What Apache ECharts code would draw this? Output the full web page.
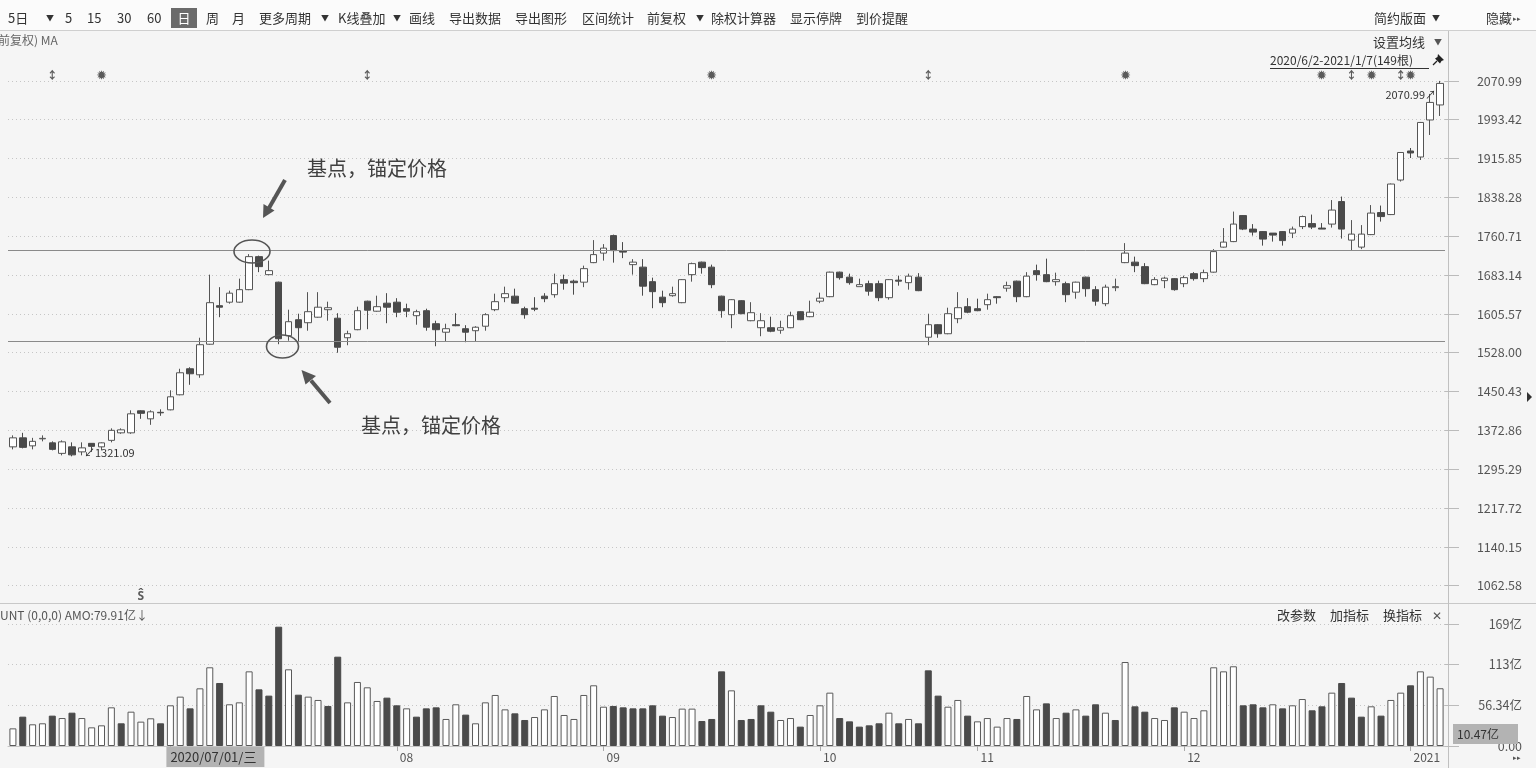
<!DOCTYPE html>
<html><head><meta charset="utf-8">
<script src="https://cdn.jsdelivr.net/npm/echarts@6/dist/echarts.min.js"></script>
<style>html,body{margin:0;padding:0;background:#f5f5f5;}#c{width:1536px;height:768px;}</style>
</head><body><div id="c"></div>
<script>
// ---------- data ----------
const monthDays = [
  ['2020','06',[5,8,9,10,11,12,15,16,17,18,19,22,23,24,29,30]],
  ['2020','07',[1,2,3,6,7,8,9,10,13,14,15,16,17,20,21,22,23,24,27,28,29,30,31]],
  ['2020','08',[3,4,5,6,7,10,11,12,13,14,17,18,19,20,21,24,25,26,27,28,31]],
  ['2020','09',[1,2,3,4,7,8,9,10,11,14,15,16,17,18,21,22,23,24,25,28,29,30]],
  ['2020','10',[9,12,13,14,15,16,19,20,21,22,23,26,27,28,29,30]],
  ['2020','11',[2,3,4,5,6,9,10,11,12,13,16,17,18,19,20,23,24,25,26,27,30]],
  ['2020','12',[1,2,3,4,7,8,9,10,11,14,15,16,17,18,21,22,23,24,25,28,29,30,31]],
  ['2021','01',[4,5,6,7]]
];
const opens = [1340,1358,1342,1356,1348,1327,1340,1330,1347,1340,1353,1368,1368,1412,1396,1409,1414,1444,1496,1484,
1545,1622,1629,1629,1654,1720,1684,1669,1562,1594,1588,1599,1614,1597,1558,1574,1631,1611,1627,1629,
1616,1602,1612,1586,1569,1584,1576,1572,1581,1614,1638,1641,1616,1617,1641,1644,1674,1671,1669,1708,
1727,1762,1731,1704,1699,1670,1639,1642,1628,1684,1709,1699,1641,1604,1632,1592,1578,1578,1573,1578,
1610,1600,1631,1640,1689,1679,1660,1666,1666,1638,1673,1668,1679,1559,1584,1566,1596,1620,1616,1624,
1640,1657,1671,1640,1692,1684,1670,1666,1649,1679,1654,1626,1658,1708,1709,1700,1664,1672,1676,1666,
1686,1676,1689,1739,1750,1802,1775,1770,1767,1770,1767,1780,1786,1777,1785,1830,1753,1739,1764,1808,
1804,1873,1931,1919,1993,2023];
const closes = [1358,1339,1351,1357,1335,1350,1324,1338,1341,1348,1373,1374,1406,1407,1410,1408,1440,1488,1486,1544,
1628,1619,1647,1654,1720,1700,1692,1556,1590,1578,1610,1619,1618,1539,1566,1612,1613,1620,1619,1609,
1611,1610,1579,1574,1576,1582,1569,1579,1604,1630,1646,1627,1604,1615,1636,1666,1667,1668,1696,1724,
1737,1732,1729,1709,1661,1650,1628,1646,1674,1706,1698,1664,1612,1634,1606,1608,1592,1571,1578,1602,
1594,1609,1637,1689,1678,1668,1664,1651,1638,1674,1671,1681,1652,1584,1566,1606,1618,1609,1612,1634,
1638,1662,1640,1681,1684,1670,1674,1644,1669,1656,1631,1659,1660,1727,1702,1666,1674,1677,1654,1678,
1676,1688,1730,1749,1785,1775,1769,1755,1763,1752,1775,1800,1779,1775,1813,1775,1765,1765,1807,1800,
1865,1928,1927,1988,2028,2066];
const lows = [1335,1337,1335,1351,1333,1323,1321.09,1323,1330,1333,1349,1366,1366,1396,1384,1402,1413,1443,1464,1478,
1544,1599,1626,1628,1653,1689,1683,1545,1552,1549,1572,1598,1592,1528,1543,1573,1575,1610,1587,1599,
1599,1584,1572,1541,1551,1581,1549,1551,1572,1611,1629,1626,1596,1611,1629,1638,1654,1644,1659,1707,
1712,1708,1717,1684,1642,1617,1619,1640,1627,1670,1686,1657,1598,1577,1605,1591,1561,1569,1566,1577,
1593,1599,1627,1639,1674,1664,1660,1642,1631,1634,1662,1654,1651,1543,1558,1565,1587,1607,1611,1614,
1626,1650,1629,1639,1672,1669,1662,1629,1636,1640,1622,1621,1651,1707,1689,1665,1663,1657,1652,1659,
1672,1669,1688,1738,1749,1773,1762,1742,1750,1742,1757,1775,1775,1775,1778,1756,1732,1735,1763,1790,
1803,1870,1917,1913,1963,2001];
const highs = [1363,1368,1358,1363,1351,1353,1349,1349,1347,1349,1377,1377,1413,1413,1413,1415,1453,1496,1499,1558,
1684,1659,1652,1676,1725,1722,1712,1670,1614,1606,1649,1649,1630,1607,1572,1620,1632,1642,1647,1637,
1626,1614,1616,1592,1586,1607,1583,1581,1607,1646,1660,1656,1620,1639,1647,1686,1684,1674,1702,1753,
1745,1764,1749,1715,1715,1678,1652,1660,1675,1708,1710,1704,1642,1635,1633,1629,1607,1600,1592,1610,
1611,1632,1648,1690,1690,1686,1676,1672,1672,1675,1682,1686,1687,1606,1585,1618,1649,1637,1636,1646,
1641,1670,1672,1689,1704,1716,1688,1670,1670,1680,1661,1664,1676,1747,1720,1707,1679,1680,1677,1682,
1689,1694,1735,1777,1810,1803,1785,1771,1767,1771,1780,1802,1804,1787,1833,1840,1793,1783,1823,1822,
1866,1929,1937,1989,2045,2070.99];
// turnover (亿)
const volumes = [24.4,40.6,30.0,31.4,42.0,38.7,46.1,38.7,25.8,28.6,53.5,31.4,47.5,33.7,38.3,31.4,56.3,68.3,52.1,79.8,
108.9,87.2,57.7,60.4,103.3,78.4,69.7,165.1,106.1,71.0,68.3,63.7,55.4,123.6,60.4,88.6,81.2,62.3,66.9,56.3,
52.1,40.6,52.1,53.5,37.4,57.7,43.4,31.4,60.4,70.6,50.7,45.2,36.0,40.1,50.7,69.2,42.9,37.4,70.6,84.0,
54.4,55.4,53.5,52.1,52.1,56.3,42.0,40.1,51.7,51.7,34.6,37.4,103.3,77.0,36.0,37.4,56.3,47.5,36.0,38.7,
26.8,42.9,56.3,73.8,38.7,34.1,26.8,28.6,31.4,46.1,31.4,37.4,31.4,104.7,69.7,54.4,63.7,42.0,34.1,38.7,
26.8,38.7,37.4,69.2,50.7,59.0,38.7,46.1,50.7,42.0,57.7,46.1,36.0,116.2,54.9,47.5,38.7,36.0,53.5,47.5,
38.7,49.4,108.9,103.3,110.3,56.3,57.7,53.5,57.7,52.1,56.3,65.0,49.4,54.9,73.8,87.2,66.9,40.6,54.9,42.0,
63.7,73.8,84.0,103.3,96.0,79.91];
// 1 = hollow (close up vs previous close), 0 = filled
const volUp = [1,0,1,1,0,1,0,1,1,1,1,0,1,1,1,0,1,1,0,1,1,0,1,1,1,0,0,0,1,0,1,1,0,0,1,1,1,1,0,0,
1,0,0,0,1,1,0,1,1,1,1,0,0,1,1,1,1,1,1,1,1,0,0,0,0,0,0,1,1,1,0,0,0,1,0,0,0,0,1,1,
0,1,1,1,0,0,0,0,0,1,0,1,0,0,0,1,1,0,1,1,1,1,0,1,1,0,1,0,1,0,0,1,0,1,0,0,1,1,0,1,
1,1,1,1,1,0,0,0,1,0,1,1,0,0,1,0,0,0,1,0,1,1,0,1,1,1];
const priceTicks = [2070.99,1993.42,1915.85,1838.28,1760.71,1683.14,1605.57,1528.00,1450.43,1372.86,1295.29,1217.72,1140.15,1062.58];
const volTicks = [0,56.34,112.68,169.02];
const volTickLabels = ['0.00','56.34亿','113亿','169亿'];
const anchorLines = [1733.5,1550.9];
const markerIdx = [4,9,36,71,93,113,133,136,138,141,142];
const markerSym = ['↕','✹','↕','✹','↕','✹','✹','↕','✹','↕','✹'];
const cursorDate = '2020/07/01', cursorWeekday = '三';
const toolbarItems = [['5日',8],['▼',46],['5',65],['15',87],['30',117],['60',147],['周',206],['月',232],['更多周期',259],['▼',321],['K线叠加',338],['▼',393],['画线',409],['导出数据',449],['导出图形',515],['区间统计',582],['前复权',647],['▼',696],['除权计算器',711],['显示停牌',790],['到价提醒',856],['简约版面',1374],['▼',1432],['隐藏',1486]];

// ---------- build ----------
const categories = [];
monthDays.forEach(([y,m,days]) => days.forEach(d => categories.push(y+'/'+m+'/'+String(d).padStart(2,'0'))));
const kData = opens.map((o,i) => [o, closes[i], lows[i], highs[i]]);
const volData = volumes.map((v,i) => ({value: v, itemStyle: volUp[i] ? {color:'#ffffff', borderColor:'#5a5a5a', borderWidth:1} : {color:'#4a4a4a', borderColor:'#4a4a4a', borderWidth:1}}));
const cursorIndex = categories.indexOf(cursorDate);
function monthLabel(i){
  if (i === 0) return null;
  const p = categories[i].split('/'), q = categories[i-1].split('/');
  if (p[1] === q[1]) return null;
  return p[1] === '01' ? p[0] : p[1];
}
const FONT = '"Noto Sans CJK SC","Noto Sans",sans-serif';
const GL = 8, GR = 91;

const graphic = [];
graphic.push({type:'rect', shape:{x:0,y:0,width:1536,height:30}, style:{fill:'#fbfbfb'}, z:-5});
graphic.push({type:'line', shape:{x1:0,y1:30.5,x2:1536,y2:30.5}, style:{stroke:'#cfcfcf',lineWidth:1}});
graphic.push({type:'line', shape:{x1:0,y1:603.5,x2:1536,y2:603.5}, style:{stroke:'#c8c8c8',lineWidth:1}});
graphic.push({type:'line', shape:{x1:1448.5,y1:31,x2:1448.5,y2:768}, style:{stroke:'#c0c0c0',lineWidth:1}});
toolbarItems.forEach(([t,x]) => graphic.push({type:'text', x:x, y:18, style:{text:t, font:(t==='▼'?'8px ':'13px ')+FONT, fill:'#333', verticalAlign:'middle'}}));
graphic.push({type:'rect', shape:{x:171,y:8,width:26,height:20}, style:{fill:'#6b6b6b'}});
graphic.push({type:'text', x:184, y:18, style:{text:'日', font:'13px '+FONT, fill:'#fff', align:'center', verticalAlign:'middle'}});
graphic.push({type:'text', x:1513, y:18, style:{text:'▸▸', font:'7px '+FONT, fill:'#555', verticalAlign:'middle'}});
graphic.push({type:'text', x:-2, y:40, style:{text:'前复权) MA', font:'12px '+FONT, fill:'#666', verticalAlign:'middle'}});
graphic.push({type:'text', x:1373, y:42, style:{text:'设置均线', font:'13px '+FONT, fill:'#333', verticalAlign:'middle'}});
graphic.push({type:'text', x:1434, y:42, style:{text:'▼', font:'8px '+FONT, fill:'#555', verticalAlign:'middle'}});
graphic.push({type:'text', x:1270, y:60, style:{text:'2020/6/2-2021/1/7(149根)', font:'12px '+FONT, fill:'#333', verticalAlign:'middle'}});
graphic.push({type:'line', shape:{x1:1270,y1:68.5,x2:1429,y2:68.5}, style:{stroke:'#333',lineWidth:1}});
// pushpin
graphic.push({type:'polygon', shape:{points:[[1438,54],[1444,60],[1441.5,61],[1440,63.5],[1435,58.5],[1437.5,57]]}, style:{fill:'#222'}});
graphic.push({type:'line', shape:{x1:1437,y1:61,x2:1433,y2:65}, style:{stroke:'#222',lineWidth:1.2}});
graphic.push({type:'text', x:0, y:615, style:{text:'UNT (0,0,0) AMO:79.91亿↓', font:'12px '+FONT, fill:'#555', verticalAlign:'middle'}});
[['改参数',1277],['加指标',1330],['换指标',1383]].forEach(([t,x]) => graphic.push({type:'text', x:x, y:615, style:{text:t, font:'13px '+FONT, fill:'#333', verticalAlign:'middle'}}));
graphic.push({type:'text', x:1432, y:615, style:{text:'✕', font:'12px '+FONT, fill:'#555', verticalAlign:'middle'}});
graphic.push({type:'polygon', shape:{points:[[1527,392],[1532,397],[1527,402]]}, style:{fill:'#333'}});
graphic.push({type:'text', x:1513, y:757, style:{text:'▸▸', font:'7px '+FONT, fill:'#555', verticalAlign:'middle'}});
graphic.push({type:'rect', shape:{x:1453,y:724,width:65,height:20}, style:{fill:'#b3b3b3'}, z:50});
graphic.push({type:'text', x:1457, y:734, style:{text:'10.47亿', font:'12px '+FONT, fill:'#333', verticalAlign:'middle'}, z:51});
// annotations
graphic.push({type:'ellipse', shape:{cx:252,cy:251.5,rx:18,ry:11.5}, style:{fill:'none',stroke:'#555',lineWidth:1.6}, z:60});
graphic.push({type:'ellipse', shape:{cx:282.5,cy:346.5,rx:16,ry:11.5}, style:{fill:'none',stroke:'#555',lineWidth:1.6}, z:60});
graphic.push({type:'line', shape:{x1:285,y1:180,x2:269,y2:208}, style:{stroke:'#555',lineWidth:4}, z:60});
graphic.push({type:'polygon', shape:{points:[[263,218],[274.5,210.5],[263.5,204]]}, style:{fill:'#555'}, z:60});
graphic.push({type:'line', shape:{x1:330,y1:403,x2:311,y2:380.5}, style:{stroke:'#555',lineWidth:4}, z:60});
graphic.push({type:'polygon', shape:{points:[[301.5,370],[316,376],[305.5,384.5]]}, style:{fill:'#555'}, z:60});
graphic.push({type:'text', x:307, y:168, style:{text:'基点，锚定价格', font:'20px '+FONT, fill:'#404040', verticalAlign:'middle'}, z:60});
graphic.push({type:'text', x:361, y:425, style:{text:'基点，锚定价格', font:'20px '+FONT, fill:'#404040', verticalAlign:'middle'}, z:60});

const chart = echarts.init(document.getElementById('c'));
chart.setOption({
  animation:false,
  backgroundColor:'#f5f5f5',
  textStyle:{fontFamily:FONT},
  grid:[{left:GL,right:GR,top:31,height:572},{left:GL,right:GR,top:604,height:142}],
  xAxis:[
    {type:'category',gridIndex:0,data:categories,boundaryGap:true,axisLine:{show:false},axisTick:{show:false},axisLabel:{show:false},splitLine:{show:false}},
    {type:'category',gridIndex:1,data:categories,boundaryGap:true,
      axisLine:{show:true,lineStyle:{color:'#c4c4c4'}},
      axisTick:{show:true,alignWithLabel:true,length:5,interval:(i)=>monthLabel(i)!==null,lineStyle:{color:'#aaa'}},
      axisLabel:{interval:(i)=>monthLabel(i)!==null,formatter:(v,i)=>monthLabel(i)||'',align:'left',margin:5,padding:[0,0,0,3],color:'#555',fontSize:12,fontFamily:FONT},
      splitLine:{show:false}}
  ],
  yAxis:[
    {type:'value',gridIndex:0,position:'right',min:1028.1,max:2170.7,scale:true,
      axisLine:{show:false},
      axisTick:{show:true,customValues:priceTicks,length:14,lineStyle:{color:'#bbb'}},
      axisLabel:{customValues:priceTicks,formatter:(v)=>v.toFixed(2),align:'right',margin:77,color:'#555',fontSize:12.5,fontFamily:FONT},
      splitLine:{show:true,lineStyle:{color:'#c6c6c6',type:[1,3],width:1}}},
    {type:'value',gridIndex:1,position:'right',min:0,max:196.5,
      axisLine:{show:false},
      axisTick:{show:true,customValues:volTicks,length:14,lineStyle:{color:'#bbb'}},
      axisLabel:{customValues:volTicks,formatter:(v)=>{let k=0,b=1e9;volTicks.forEach((t,j)=>{if(Math.abs(t-v)<b){b=Math.abs(t-v);k=j;}});return volTickLabels[k];},align:'right',margin:77,color:'#555',fontSize:12.5,fontFamily:FONT},
      splitLine:{show:true,lineStyle:{color:'#c6c6c6',type:[1,3],width:1}}}
  ],
  series:[
    {type:'candlestick',xAxisIndex:0,yAxisIndex:0,data:kData,barWidth:7,
      itemStyle:{color:'#ffffff',color0:'#4a4a4a',borderColor:'#555555',borderColor0:'#4a4a4a',borderWidth:1},
      markLine:{silent:true,symbol:['none','none'],label:{show:false},lineStyle:{color:'#8a8a8a',type:'solid',width:1},
        data:anchorLines.map(v=>({yAxis:v}))},
      markPoint:{symbol:'circle',symbolSize:0,silent:true,
        data:[
          {type:'max',valueDim:'highest',label:{show:true,position:'left',distance:4,offset:[0,14],formatter:(p)=>p.value.toFixed(2)+'↗',color:'#333',fontSize:11,fontFamily:FONT}},
          {type:'min',valueDim:'lowest',label:{show:true,position:'right',distance:12,offset:[0,-4],formatter:(p)=>'↙'+p.value.toFixed(2),color:'#333',fontSize:11,fontFamily:FONT}}
        ]}},
    {type:'scatter',xAxisIndex:0,yAxisIndex:0,symbolSize:0,silent:true,
      data:markerIdx.map(i=>[i,2083]),
      label:{show:true,position:'inside',formatter:(p)=>markerSym[p.dataIndex],color:'#333',fontSize:11,fontWeight:'bold'}},
    {type:'scatter',xAxisIndex:0,yAxisIndex:0,symbolSize:0,silent:true,
      data:[[13,1044]],
      label:{show:true,position:'inside',formatter:'Ŝ',color:'#333',fontSize:12,fontWeight:'bold'}},
    {type:'bar',xAxisIndex:1,yAxisIndex:1,data:volData,barWidth:7}
  ],
  graphic:graphic
});
// crosshair date box at the bottom axis, anchored to its category
const cx = chart.convertToPixel({xAxisIndex:1}, cursorIndex);
graphic.push({type:'rect', shape:{x:cx-4,y:747,width:98,height:20}, style:{fill:'#b3b3b3'}, z:70});
graphic.push({type:'text', x:cx, y:757, style:{text:cursorDate+'/'+cursorWeekday, font:'13px '+FONT, fill:'#333', verticalAlign:'middle'}, z:71});
chart.setOption({graphic:graphic});
</script>
</body></html>
